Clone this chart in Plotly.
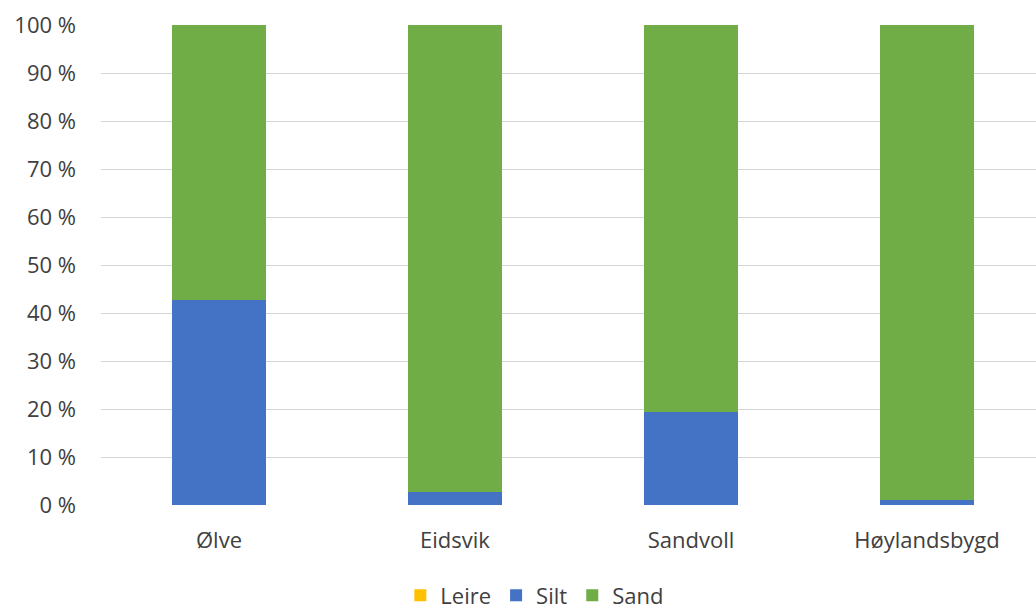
import plotly.graph_objects as go

# Grain-size composition per site (percent of sample)
sites = ["Ølve", "Eidsvik", "Sandvoll", "Høylandsbygd"]
leire = [0.0, 0.0, 0.0, 0.0]
silt = [42.7, 2.8, 19.4, 1.0]
sand = [100 - l - s for l, s in zip(leire, silt)]

tick_vals = [0, 10, 20, 30, 40, 50, 60, 70, 80, 90, 100]
tick_text = [f"{v} %" for v in tick_vals]

font_family = "Open Sans, sans-serif"
text_color = "#404040"

fig = go.Figure()
for name, vals, color in [
    ("Leire", leire, "#FFC000"),
    ("Silt", silt, "#4472C4"),
    ("Sand", sand, "#70AD47"),
]:
    fig.add_trace(go.Bar(
        x=sites, y=vals, name=name,
        marker=dict(color=color, line=dict(width=0)),
        width=0.4,
    ))

fig.update_layout(
    barmode="stack",
    width=1036, height=612,
    margin=dict(l=101, r=0, t=25, b=107, autoexpand=False),
    paper_bgcolor="white", plot_bgcolor="white",
    font=dict(family=font_family, size=22, color=text_color),
    showlegend=True,
    legend=dict(
        orientation="h", x=0.464, xanchor="center",
        yref="container", y=0.027, yanchor="middle",
        font=dict(size=22, color=text_color),
        itemwidth=30, traceorder="normal",
    ),
    xaxis=dict(
        range=[-0.5, 3.462], showgrid=False, showline=False, zeroline=False,
        ticks="", ticklabelstandoff=20,
    ),
    yaxis=dict(
        range=[0, 100], tickvals=tick_vals, ticktext=tick_text,
        showgrid=True, gridcolor="#D6D6D6", gridwidth=1,
        zeroline=False, showline=False, ticks="", ticklabelstandoff=24,
    ),
)

fig.write_html("out.html")
